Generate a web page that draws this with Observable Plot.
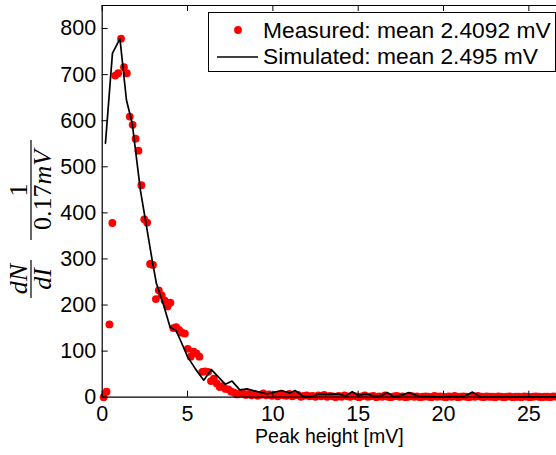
<!DOCTYPE html>
<html><head><meta charset="utf-8">
<script src="https://cdn.jsdelivr.net/npm/d3@7"></script>
<script src="https://cdn.jsdelivr.net/npm/@observablehq/plot@0.6"></script>
<style>html,body{margin:0;padding:0;background:#fff}svg{display:block}</style>
</head><body><div id="chart"></div>
<script>
// Measured histogram (bin centres, 0.17 mV bins) and counts
const measuredX = [0.085,0.255,0.425,0.595,0.765,0.935,1.105,1.275,1.445,1.615,1.785,1.955,2.125,2.295,2.465,2.635,2.805,2.975,3.145,3.315,3.485,3.655,3.825,3.995,4.165,4.335,4.505,4.675,4.845,5.015,5.185,5.355,5.525,5.695,5.865,6.035,6.205,6.375,6.545,6.715,6.885,7.055,7.225,7.395,7.565,7.735,7.905,8.075,8.245,8.415,8.585,8.755,8.925,9.095,9.265,9.435,9.605,9.775,9.945,10.115,10.285,10.455,10.625,10.795,10.965,11.135,11.305,11.475,11.645,11.815,11.985,12.155,12.325,12.495,12.665,12.835,13.005,13.175,13.345,13.515,13.685,13.855,14.025,14.195,14.365,14.535,14.705,14.875,15.045,15.215,15.385,15.555,15.725,15.895,16.065,16.235,16.405,16.575,16.745,16.915,17.085,17.255,17.425,17.595,17.765,17.935,18.105,18.275,18.445,18.615,18.785,18.955,19.125,19.295,19.465,19.635,19.805,19.975,20.145,20.315,20.485,20.655,20.825,20.995,21.165,21.335,21.505,21.675,21.845,22.015,22.185,22.355,22.525,22.695,22.865,23.035,23.205,23.375,23.545,23.715,23.885,24.055,24.225,24.395,24.565,24.735,24.905,25.075,25.245,25.415,25.585,25.755,25.925,26.095,26.265,26.435,26.605];
const measuredY = [0,12,158,378,698,703,778,716,703,609,591,561,535,460,386,379,289,287,213,232,221,210,197,205,150,152,146,140,138,105,88,99,95,88,55,56,55,35,40,30,22,24,18,17,12,10,6,8,
 9,5,7,4,6,3,5,8,4,6,3,
 5,2,6,4,3,7,2,4,5,1,3,4,
 2,3,1,4,2,5,1,3,2,0,3,1,4,2,1,3,2,0,2,4,
 1,2,3,0,2,1,4,1,0,2,3,1,2,0,1,3,1,2,0,1,
 2,1,0,3,1,2,1,0,2,1,3,0,1,2,1,0,2,1,3,1,
 0,2,1,1,0,2,1,0,1,2,0,1,1,0,2,1,0,1,2,1,0,1,1,0,2,1];
// Simulated curve
const simulatedX = [0.19,0.60,1.04,1.42,1.76,2.24,2.93,3.18,3.58,3.98,4.32,4.59,5.00,5.45,5.95,6.40,7.22,7.61,8.06,8.49,9.10,9.67,10.50,11.00,11.30,11.80,12.30,12.70,13.10,13.90,14.25,14.65,15.00,15.50,16.00,16.40,16.70,17.10,17.60,17.96,18.55,19.80,21.20,21.70,22.20,23.70,25.10,26.65];
const simulatedY = [551,746,778,645,594,449,297,246,202,152,145,123,88,62,37,60,28,35,16,18,12,7,14.5,9,14.5,1.5,1.5,7,6,7,2,12,4,7,2,4,10,1,5,10,2,1,2,11,0,0,1,1];
const xTicks = [0,5,10,15,20,25];
const yTicks = [0,100,200,300,400,500,600,700,800];
const legendLabels = ["Measured: mean 2.4092 mV","Simulated: mean 2.495 mV"];
const xLabel = "Peak height [mV]";

const measured = measuredX.map((x,i)=>({x, y: measuredY[i]}));
const simulated = simulatedX.map((x,i)=>({x, y: simulatedY[i]}));

const W=556, H=455, mL=101.7, mT=5, mB=58.3, mR=0;
const pw = W-mL-mR, ph = H-mT-mB;

const svg = Plot.plot({
  width:W, height:H, marginLeft:mL, marginRight:mR, marginTop:mT, marginBottom:mB,
  style:{fontFamily:"'Liberation Sans', Arial, Helvetica, sans-serif", fontSize:"21.5px", background:"#fff", color:"#000", overflow:"visible"},
  x:{domain:[0,26.62]},
  y:{domain:[0,850]},
  marks:[
    Plot.dot(measured,{x:"x",y:"y",r:3.9,fill:"#ff0000",stroke:"none"}),
    Plot.line(simulated,{x:"x",y:"y",stroke:"#000",strokeWidth:1.7}),
    Plot.ruleY([0],{stroke:"#000",strokeWidth:1.2}),
    Plot.ruleY([850],{stroke:"#000",strokeWidth:1.2}),
    Plot.ruleX([0],{stroke:"#000",strokeWidth:1.2}),
    Plot.tickX(xTicks,{x:d=>d, insetTop:ph-6, stroke:"#000"}),
    Plot.tickX(xTicks,{x:d=>d, insetBottom:ph-6, stroke:"#000"}),
    Plot.tickY(yTicks,{y:d=>d, insetRight:pw-6, stroke:"#000"}),
    Plot.axisX({ticks:xTicks, tickSize:0, tickPadding:9, label:null, fill:"#000"}),
    Plot.axisY({ticks:yTicks, tickSize:0, tickPadding:6, label:null, fill:"#000"}),
    Plot.text([xLabel],{text:d=>d, frameAnchor:"bottom", dy:46, fontSize:19.5, fill:"#000"})
  ]
});

const sel = d3.select(svg);
// Legend box
const lg = sel.append("g");
lg.append("rect").attr("x",208.5).attr("y",12.5).attr("width",347).attr("height",59)
  .attr("fill","#fff").attr("stroke","#000").attr("stroke-width",1);
lg.append("circle").attr("cx",238).attr("cy",30).attr("r",3.9).attr("fill","#ff0000");
lg.append("line").attr("x1",217).attr("x2",258).attr("y1",57).attr("y2",57).attr("stroke","#000").attr("stroke-width",1.7);
lg.selectAll("text.lt").data(legendLabels).join("text").attr("class","lt")
  .attr("x",263).attr("y",(d,i)=>i===0?37.5:63.5).attr("text-anchor","start")
  .attr("font-size",22.8).attr("fill","#000").text(d=>d);

// Y label: dN/dI * 1/(0.17 mV), rotated
const yl = sel.append("g").attr("font-family","'Liberation Serif','Times New Roman',serif").attr("font-size",26).attr("fill","#000");
function frac(cy, half, numParts, denParts) {
  const g = yl.append("g").attr("transform",`translate(31,${cy}) rotate(-90)`);
  g.append("line").attr("x1",-half).attr("x2",half).attr("y1",0).attr("y2",0).attr("stroke","#000").attr("stroke-width",1.2);
  const n = g.append("text").attr("text-anchor","middle").attr("y",-4);
  numParts.forEach(p=>n.append("tspan").attr("font-style",p[1]?"italic":"normal").text(p[0]));
  const d = g.append("text").attr("text-anchor","middle").attr("y",20);
  denParts.forEach(p=>d.append("tspan").attr("font-style",p[1]?"italic":"normal").text(p[0]));
}
frac(279, 19, [["dN",true]], [["dI",true]]);
frac(190, 50, [["1",false]], [["0.17",false],["mV",true]]);

document.getElementById("chart").appendChild(svg);
</script>
</body></html>
